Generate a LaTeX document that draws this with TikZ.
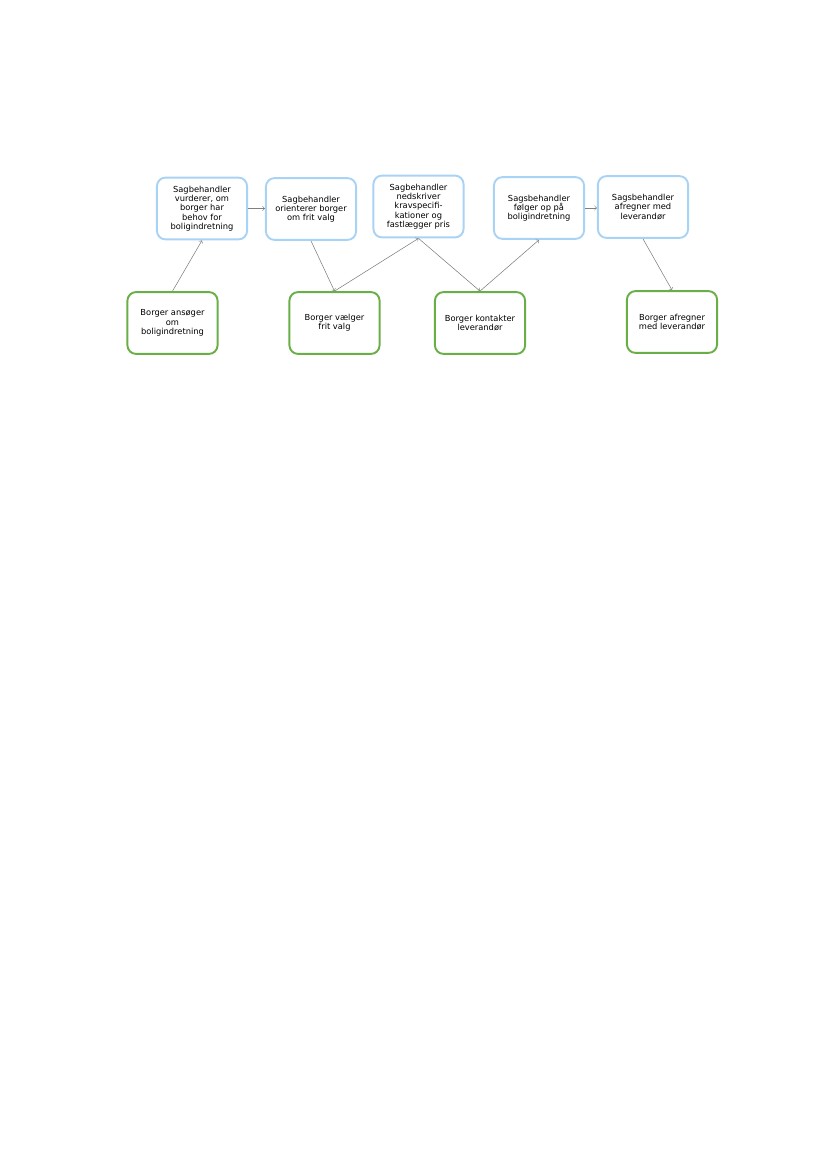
\documentclass[tikz,border=0pt]{standalone}
\usepackage{fontspec}
\setmainfont{DejaVu Sans}
\usetikzlibrary{arrows}
\definecolor{sagblue}{HTML}{A9D3F5}
\definecolor{borggreen}{HTML}{6AAE48}
\definecolor{arrgray}{HTML}{808080}
\begin{document}
\begin{tikzpicture}[x=0.2539mm, y=-0.2539mm,
  sag/.style={draw=sagblue, line width=1.4pt, rounded corners=2.2mm, fill=white,
    minimum width=22.9mm, minimum height=15.7mm, align=center, inner sep=1pt,
    font=\fontsize{6}{6.7}\selectfont},
  borg/.style={sag, draw=borggreen},
  flow/.style={arrgray, ->, line width=0.4pt}]
  \useasboundingbox (0,0) rectangle (827,1169);
  \node[sag] (vurd) at (202,208.5) {Sagbehandler\\vurderer, om\\borger har\\behov for\\boligindretning};
  \node[sag] (orient) at (311,209) {Sagbehandler\\orienterer borger\\om frit valg};
  \node[sag] (nedskr) at (418.5,206.5) {Sagbehandler\\nedskriver\\kravspecifi-\\kationer og\\fastlægger pris};
  \node[sag] (foelg) at (539,208) {Sagsbehandler\\følger op på\\boligindretning};
  \node[sag] (afregn) at (643,207) {Sagsbehandler\\afregner med\\leverandør};
  \node[borg] (ansoeg) at (172.5,323) {Borger ansøger\\om\\boligindretning};
  \node[borg] (vaelg) at (334.5,323) {Borger vælger\\frit valg};
  \node[borg] (kontakt) at (480,323) {Borger kontakter\\leverandør};
  \node[borg] (bafregn) at (672,322) {Borger afregner\\med leverandør};
  \draw[flow] (ansoeg.north) -- (vurd.south);
  \draw[flow] (vurd.east) -- (vurd.east -| orient.west);
  \draw[flow] (orient.south) -- (vaelg.north);
  \draw[flow] (vaelg.north) -- (nedskr.south);
  \draw[flow] (nedskr.south) -- (kontakt.north);
  \draw[flow] (kontakt.north) -- (foelg.south);
  \draw[flow] (foelg.east) -- (foelg.east -| afregn.west);
  \draw[flow] (afregn.south) -- (bafregn.north);
\end{tikzpicture}
\end{document}
